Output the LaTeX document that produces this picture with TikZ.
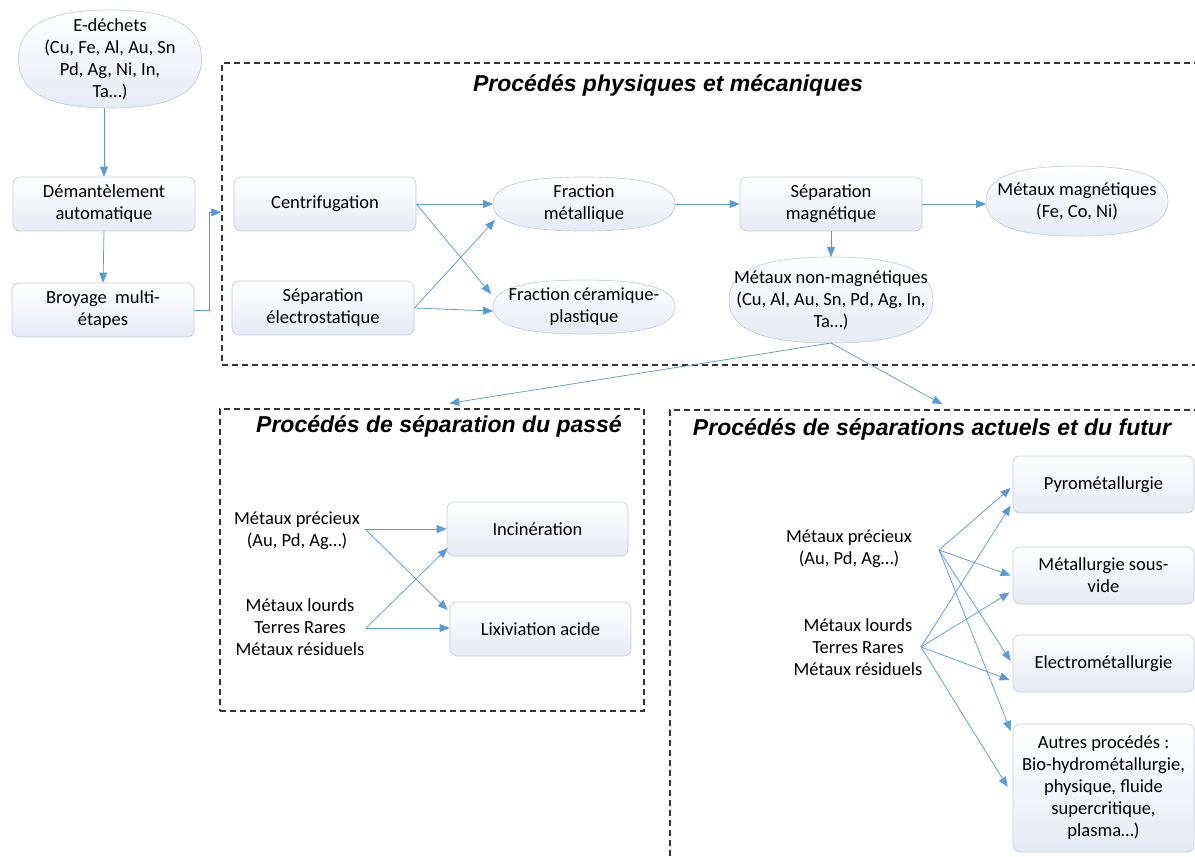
\documentclass[tikz,border=0pt]{standalone}
\usepackage{fontspec}
\setmainfont{Carlito}
\newfontfamily\titlefont{Liberation Sans}
\usetikzlibrary{arrows.meta,calc,backgrounds}
\definecolor{boxtop}{RGB}{255,255,255}
\definecolor{boxbot}{RGB}{229,235,246}
\definecolor{boxline}{RGB}{198,205,219}
\definecolor{arrowc}{RGB}{91,155,213}
\newcommand\myoval[1]{%
 \path[ovalshape] (#1.west) .. controls ($(#1.west)!0.68!(#1.north west)$) and ($(#1.north)!0.68!(#1.north west)$) .. (#1.north)
 .. controls ($(#1.north)!0.68!(#1.north east)$) and ($(#1.east)!0.68!(#1.north east)$) .. (#1.east)
 .. controls ($(#1.east)!0.68!(#1.south east)$) and ($(#1.south)!0.68!(#1.south east)$) .. (#1.south)
 .. controls ($(#1.south)!0.68!(#1.south west)$) and ($(#1.west)!0.68!(#1.south west)$) .. (#1.west) -- cycle;}
\tikzset{
 bodyfont/.style={font=\fontsize{18.5}{22}\selectfont},
 stepbox/.style={rectangle, rounded corners=7pt, draw=boxline, line width=0.7pt,
   top color=boxtop, bottom color=boxbot, align=center, bodyfont,
   minimum width=182pt, minimum height=54pt, inner sep=2pt},
 ovalnode/.style={rectangle, align=center, bodyfont, inner sep=0pt, outer sep=0pt,
   minimum width=182pt, minimum height=54pt},
 ovalshape/.style={draw=boxline, line width=0.7pt, top color=boxtop, bottom color=boxbot},
 txt/.style={align=center, bodyfont, inner sep=0pt},
 ttl/.style={font=\titlefont\bfseries\itshape\fontsize{23}{26}\selectfont, inner sep=0pt, anchor=base},
 arr/.style={draw=arrowc, line width=0.75pt, -{Triangle[length=10pt,width=8pt]}},
 dbox/.style={draw=black!80, line width=1.3pt, dash pattern=on 6pt off 4pt, rectangle, inner sep=0pt},
}
\begin{document}
\begin{tikzpicture}[x=1pt,y=-1pt]
\useasboundingbox (0,0) rectangle (1195,857);

% dashed frames
\node[dbox, minimum width=988pt, minimum height=302pt] (p1) at (716,214) {};
\node[dbox, minimum width=424pt, minimum height=302pt] (p2) at (432,560) {};
\node[dbox, minimum width=540pt, minimum height=460pt] (p3) at (940,640) {};

% titles
\node[ttl] (t1) at (668,91) {Procédés physiques et mécaniques};
\node[ttl] (t2) at (439,432) {Procédés de séparation du passé};
\node[ttl] (t3) at (932,435) {Procédés de séparations actuels et du futur};

% left column
\node[ovalnode, minimum width=183pt, minimum height=98pt] (ed) at (110,59) {E-déchets\\(Cu, Fe, Al, Au, Sn\\Pd, Ag, Ni, In,\\Ta…)};
\node[stepbox] (dem) at (104,204) {Démantèlement\\automatique};
\node[stepbox] (bro) at (103,310) {Broyage~~multi-\\étapes};

% physical processes
\node[stepbox] (cen) at (325,204) {Centrifugation};
\node[stepbox] (sel) at (323,308) {Séparation\\électrostatique};
\node[ovalnode] (fm) at (584,204) {Fraction\\métallique};
\node[ovalnode] (fc) at (584,307) {Fraction céramique-\\plastique};
\node[stepbox] (sm) at (831,204) {Séparation\\magnétique};
\node[ovalnode, minimum width=182pt, minimum height=70pt] (mm) at (1077,201) {Métaux magnétiques\\(Fe, Co, Ni)};
\node[ovalnode, minimum width=204pt, minimum height=86pt] (mn) at (831,300) {Métaux non-magnétiques\\(Cu, Al, Au, Sn, Pd, Ag, In,\\Ta…)};

\begin{pgfonlayer}{background}
\myoval{ed}
\myoval{fm}
\myoval{fc}
\myoval{mm}
\myoval{mn}
\end{pgfonlayer}

% past processes
\node[txt] (mp1) at (297,531) {Métaux précieux\\(Au, Pd, Ag…)};
\node[txt] (ml1) at (300,627) {Métaux lourds\\Terres Rares\\Métaux résiduels};
\node[stepbox, minimum width=181pt] (inc) at (537.5,529) {Incinération};
\node[stepbox, minimum width=181pt] (lix) at (540.5,629) {Lixiviation acide};
\coordinate (s1) at (365,529);
\coordinate (s2) at (366,628);

% current / future processes
\node[txt] (mp2) at (849,549) {Métaux précieux\\(Au, Pd, Ag…)};
\node[txt] (ml2) at (858,647) {Métaux lourds\\Terres Rares\\Métaux résiduels};
\node[stepbox, minimum width=181pt, minimum height=57pt] (py) at (1103.5,484.5) {Pyrométallurgie};
\node[stepbox, minimum width=181pt, minimum height=57pt] (ms) at (1103.5,575.5) {Métallurgie sous-\\vide};
\node[stepbox, minimum width=181pt, minimum height=57pt] (el) at (1103.5,663.5) {Electrométallurgie};
\node[stepbox, minimum width=181pt, minimum height=128pt] (au) at (1103.5,788) {Autres procédés :\\Bio-hydrométallurgie,\\physique, fluide\\supercritique,\\plasma…)};
\coordinate (s3) at (939,550);
\coordinate (s4) at (921,647);

% connectors
\draw[arr] (ed.south -| dem.north) -- (dem.north);
\draw[arr] (dem.south) -- (bro.north);
\draw[arr] (bro.east) -- ++(15,0) |- ($(p1.north west)+(0,150)$);
\draw[arr] (cen.east) -- (fm.west);
\draw[arr] (cen.east) -- ($(fc.west)+(-2,-13)$);
\draw[arr] (sel.east) -- ($(fm.west)+(2,16)$);
\draw[arr] (sel.east) -- ($(fc.west)+(0,4)$);
\draw[arr] (fm.east) -- (sm.west);
\draw[arr] (sm.east) -- (mm.west |- sm.east);
\draw[arr] (sm.south) -- (mn.north -| sm.south);
\draw[arr] (mn.south) -- ($(p2.north west)+(230,-5)$);
\draw[arr] (mn.south) -- ($(p3.north west)+(273,-5)$);

\draw[arr] (s1) -- (inc.west |- s1);
\draw[arr] (s1) -- ($(lix.west)+(-2,-19)$);
\draw[arr] (s2) -- ($(inc.west)+(1,19)$);
\draw[arr] (s2) -- (lix.west |- s2);

\draw[arr] (s3) -- ($(py.west)+(-2,3.5)$);
\draw[arr] (s4) -- ($(py.west)+(-2,21)$);
\draw[arr] (s3) -- ($(ms.west)+(-2,0)$);
\draw[arr] (s4) -- ($(ms.west)+(-3,17)$);
\draw[arr] (s3) -- ($(el.west)+(-2,-2.5)$);
\draw[arr] (s4) -- ($(el.west)+(-3,16.5)$);
\draw[arr] (s3) -- ($(au.west)+(-2,-57)$);
\draw[arr] (s4) -- ($(au.west)+(-5,-1)$);
\end{tikzpicture}
\end{document}
